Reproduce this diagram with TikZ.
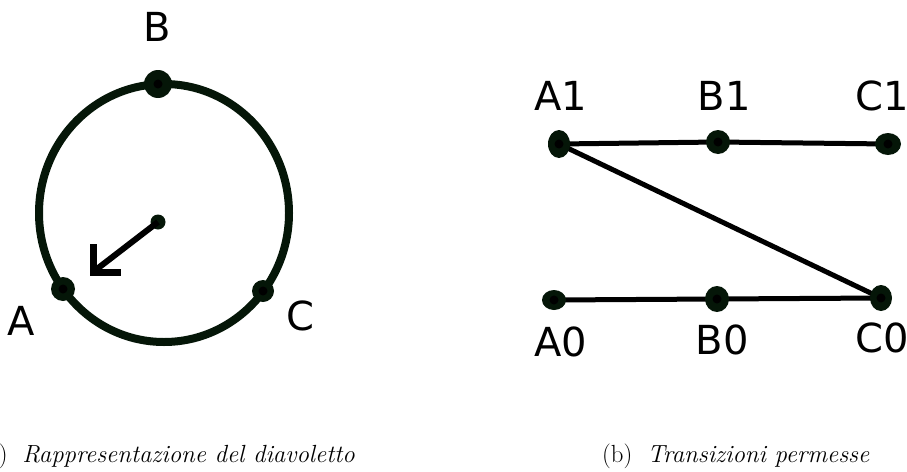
\documentclass[tikz,border=0pt]{standalone}
\usepackage{fontspec}
\newfontfamily\labfont{DejaVu Sans}
\usetikzlibrary{shapes.geometric,backgrounds}
\definecolor{dk}{RGB}{5,22,8}
\begin{document}
\begin{tikzpicture}[x=1pt,y=-1pt,
  lbl/.style={font=\labfont\fontsize{40}{40}\selectfont, inner sep=0pt},
  captext/.style={font=\fontsize{24.8}{30}\selectfont, inner sep=0pt},
  dot/.style={ellipse, fill=dk, draw=none, inner sep=0pt,
    path picture={\fill[black] (path picture bounding box.center) circle (4.5);}},
  link/.style={line width=5, black}]
\useasboundingbox (0,0) rectangle (907,471);
% left panel
\node[dot, minimum width=28, minimum height=28] (B) at (158,84) {};
\node[dot, minimum width=24, minimum height=24] (A) at (63,289) {};
\node[dot, minimum width=22, minimum height=22] (C) at (263,291) {};
\node[circle, fill=dk, inner sep=0pt, minimum size=15] (O) at (158,222) {};
\coordinate (tip) at (93,272);
\begin{scope}[on background layer]
  \draw[dk, line width=8] (164,213) ellipse [x radius=125, y radius=129];
\end{scope}
\draw[black, line width=6] (O.center) -- (tip);
\draw[black, line width=7, line join=miter] ([yshift=28]tip) -- (tip) -- ([xshift=28]tip);
\node[lbl] (lB) at (157,27) {B};
\node[lbl] (lA) at (21,321) {A};
\node[lbl] (lC) at (300,316) {C};
% right panel
\node[dot, minimum width=22, minimum height=28] (A1) at (559,144) {};
\node[dot, minimum width=24, minimum height=24] (B1) at (718,142) {};
\node[dot, minimum width=26, minimum height=22] (C1) at (888,144) {};
\node[dot, minimum width=24, minimum height=20] (A0) at (554,300) {};
\node[dot, minimum width=24, minimum height=26] (B0) at (717,299) {};
\node[dot, minimum width=22, minimum height=26] (C0) at (881,298) {};
\begin{scope}[on background layer]
  \draw[link] (A1.center) -- (B1.center) -- (C1.center);
  \draw[link] (A1.center) -- (C0.center);
  \draw[link] (A0.center) -- (B0.center) -- (C0.center);
\end{scope}
\node[lbl] (lA1) at (561,96) {A1};
\node[lbl] (lB1) at (724,96) {B1};
\node[lbl] (lC1) at (882,96) {C1};
\node[lbl] (lA0) at (561,342) {A0};
\node[lbl] (lB0) at (722,340) {B0};
\node[lbl] (lC0) at (882,338) {C0};
% captions
\node[captext, anchor=base east] (capa) at (355,462) {(a)\hspace{0.6em}\textit{Rappresentazione del diavoletto}};
\node[captext, anchor=base west] (capb) at (602,462) {(b)\hspace{0.6em}\textit{Transizioni permesse}};
\end{tikzpicture}
\end{document}
